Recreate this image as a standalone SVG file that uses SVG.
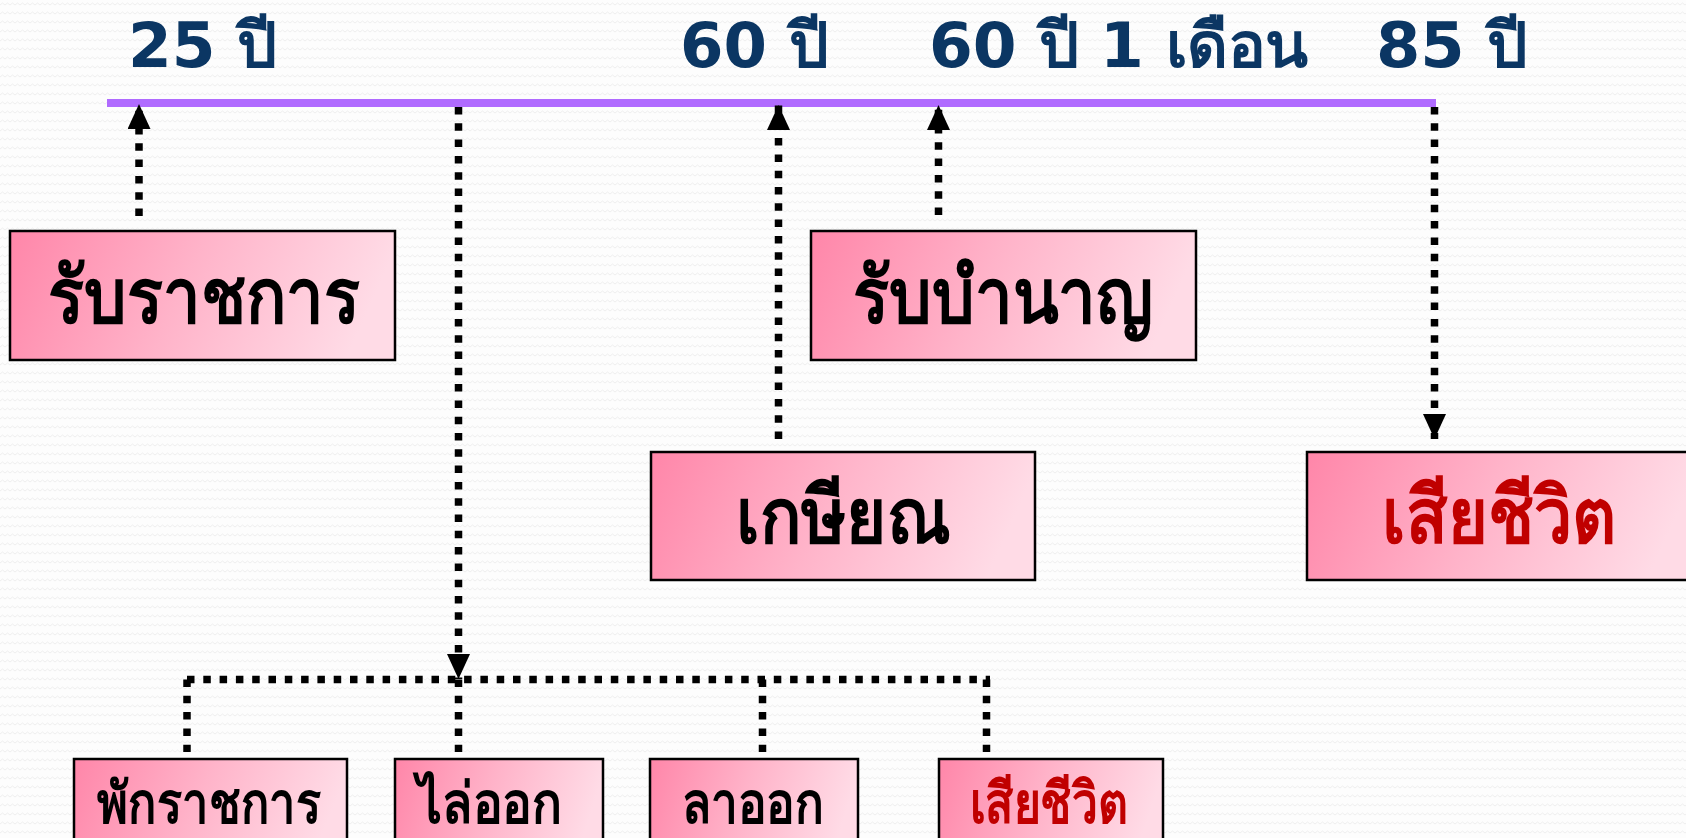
<svg xmlns="http://www.w3.org/2000/svg" width="1686" height="838" viewBox="0 0 1686 838">
  <defs>
    <linearGradient id="pink" x1="0" y1="0" x2="1" y2="0.15">
      <stop offset="0" stop-color="#ff86a9"/>
      <stop offset="0.5" stop-color="#ffb3c9"/>
      <stop offset="1" stop-color="#ffdbe6"/>
    </linearGradient>
    <pattern id="bgwave" width="10" height="9" patternUnits="userSpaceOnUse">
      <rect width="10" height="9" fill="#fdfdfd"/>
      <path d="M0,5 L2.5,3 L5,5 L7.5,3 L10,5" fill="none" stroke="#efefef" stroke-width="1"/>
    </pattern>
    <marker id="arrow" markerUnits="userSpaceOnUse" viewBox="0 0 25 23" markerWidth="25" markerHeight="23" refX="25" refY="11.5" orient="auto">
      <path d="M0,0 L25,11.5 L0,23 Z" fill="#000"/>
    </marker>
    <style>
      .box { fill: url(#pink); stroke: #000; stroke-width: 2.5; }
      .lbl { font-family: "DejaVu Sans", "Noto Sans", sans-serif; font-weight: bold; fill: #000; text-anchor: start; }
      .big { font-size: 78px; }
      .small { font-size: 57px; }
      .red { fill: #c00000; }
      .age { font-family: "DejaVu Sans", "Noto Sans", sans-serif; font-weight: bold; font-size: 62px; fill: #0b3663; }
      .dot { fill: none; stroke: #000; stroke-width: 7.5; stroke-dasharray: 7.5 8.8; }
      .arr { marker-end: url(#arrow); }
      .timeline { stroke: #b06bff; stroke-width: 8; fill: none; }
    </style>
  </defs>

  <rect width="1686" height="838" fill="url(#bgwave)"/>

  <g id="timeline">
    <line class="timeline" x1="107" y1="103" x2="1436" y2="103"/>
    <text class="age" x="128" y="67" textLength="149" lengthAdjust="spacingAndGlyphs">25 ปี</text>
    <text class="age" x="680" y="67" textLength="148" lengthAdjust="spacingAndGlyphs">60 ปี</text>
    <text class="age" x="929" y="67" textLength="379" lengthAdjust="spacingAndGlyphs">60 ปี 1 เดือน</text>
    <text class="age" x="1376" y="67" textLength="151" lengthAdjust="spacingAndGlyphs">85 ปี</text>
  </g>

  <g id="connectors">
    <line class="dot arr" x1="139" y1="216" x2="139" y2="104"/>
    <line class="dot arr" x1="778.5" y1="439" x2="778.5" y2="105"/>
    <line class="dot arr" x1="938.5" y1="215" x2="938.5" y2="105"/>
    <line class="dot arr" x1="1434.5" y1="107" x2="1434.5" y2="439"/>
    <line class="dot arr" x1="458.5" y1="107" x2="458.5" y2="679"/>
    <line class="dot" x1="187" y1="679.5" x2="990" y2="679.5"/>
    <line class="dot" x1="187" y1="679.5" x2="187" y2="752"/>
    <line class="dot" x1="458.5" y1="679.5" x2="458.5" y2="752"/>
    <line class="dot" x1="762.5" y1="679.5" x2="762.5" y2="752"/>
    <line class="dot" x1="986.5" y1="679.5" x2="986.5" y2="752"/>
  </g>

  <g id="node-rubratchakan">
    <rect class="box" x="10" y="231" width="385" height="129"/>
    <text class="lbl big" x="48" y="323" textLength="312" lengthAdjust="spacingAndGlyphs">รับราชการ</text>
  </g>
  <g id="node-rubbamnan">
    <rect class="box" x="811" y="231" width="385" height="129"/>
    <text class="lbl big" x="853" y="323" textLength="300" lengthAdjust="spacingAndGlyphs">รับบำนาญ</text>
  </g>
  <g id="node-kasian">
    <rect class="box" x="651" y="452" width="384" height="128"/>
    <text class="lbl big" x="736" y="543" textLength="214" lengthAdjust="spacingAndGlyphs">เกษียณ</text>
  </g>
  <g id="node-death-main">
    <rect class="box" x="1307" y="452" width="390" height="128"/>
    <text class="lbl big red" x="1382" y="543" textLength="235" lengthAdjust="spacingAndGlyphs">เสียชีวิต</text>
  </g>
  <g id="node-suspend">
    <rect class="box" x="74" y="759" width="273" height="100"/>
    <text class="lbl small" x="97" y="823" textLength="224" lengthAdjust="spacingAndGlyphs">พักราชการ</text>
  </g>
  <g id="node-dismiss">
    <rect class="box" x="395" y="759" width="208" height="100"/>
    <text class="lbl small" x="417" y="823" textLength="145" lengthAdjust="spacingAndGlyphs">ไล่ออก</text>
  </g>
  <g id="node-resign">
    <rect class="box" x="650" y="759" width="208" height="100"/>
    <text class="lbl small" x="682" y="823" textLength="142" lengthAdjust="spacingAndGlyphs">ลาออก</text>
  </g>
  <g id="node-death-sub">
    <rect class="box" x="939" y="759" width="224" height="100"/>
    <text class="lbl small red" x="970" y="823" textLength="158" lengthAdjust="spacingAndGlyphs">เสียชีวิต</text>
  </g>
</svg>
